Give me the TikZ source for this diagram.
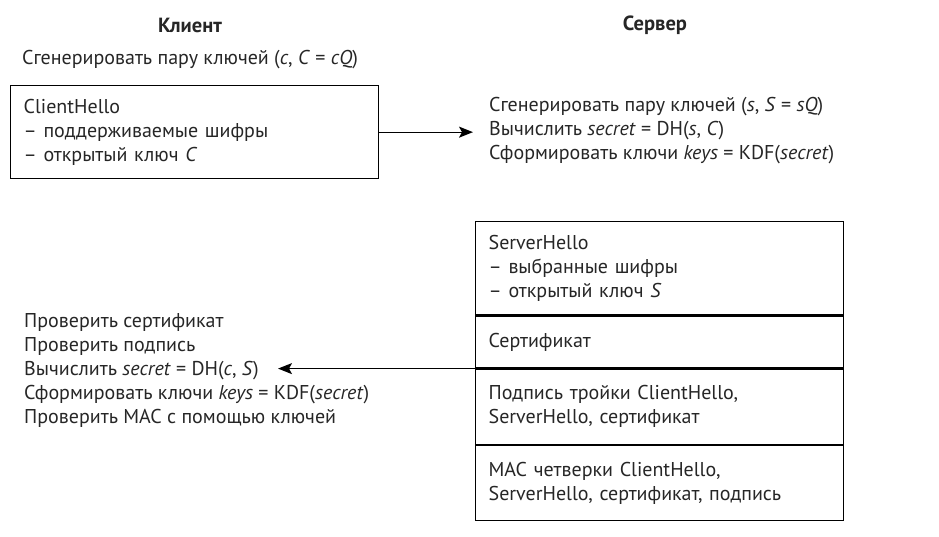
\documentclass[tikz,border=0pt]{standalone}
\usepackage{fontspec}
\setmainfont{PT Sans}
\usetikzlibrary{arrows.meta}
\begin{document}
\begin{tikzpicture}[x=1pt,y=-1pt,
  every node/.style={text=black!85},
  basefont/.style={font=\fontsize{20}{24}\selectfont},
  head/.style={font=\fontsize{20.5}{24}\selectfont\bfseries, inner sep=0pt},
  txt/.style={basefont, inner sep=0pt, align=left},
  box/.style={basefont, draw=black, line width=1.3pt, anchor=north west,
    text width=342pt, align=left, inner xsep=13pt, inner ysep=0pt, minimum width=368pt},
  arr/.style={line width=1.3pt, -{Stealth[length=14pt,width=11pt,inset=3pt]}}
]
\useasboundingbox (0,0) rectangle (939,536);

\node[head] (client) at (190,25) {Клиент};
\node[head] (server) at (655,25) {Сервер};

\node[txt, anchor=west] (cgen) at (22,60) {Сгенерировать пару ключей (\textit{c}, \textit{C} = \textit{cQ})};

\node[box, minimum height=93pt] (chello) at (10,85) {ClientHello\\– поддерживаемые шифры\\– открытый ключ \textit{C}};

\node[txt, anchor=west] (sgen) at (489,131) {Сгенерировать пару ключей (\textit{s}, \textit{S} = \textit{sQ})\\Вычислить \textit{secret} = DH(\textit{s}, \textit{C})\\Сформировать ключи \textit{keys} = KDF(\textit{secret})};

\node[box, minimum height=93pt] (shello) at (475,221) {ServerHello\\– выбранные шифры\\– открытый ключ \textit{S}};
\node[box, minimum height=52pt] (cert) at (shello.south west) {Сертификат};
\node[box, minimum height=75pt] (sig) at (cert.south west) {Подпись тройки ClientHello,\\ServerHello, сертификат};
\node[box, minimum height=75pt] (mac) at (sig.south west) {MAC четверки ClientHello,\\ServerHello, сертификат, подпись};

\node[txt, anchor=west] (verify) at (24,370) {Проверить сертификат\\Проверить подпись\\Вычислить \textit{secret} = DH(\textit{c}, \textit{S})\\Сформировать ключи \textit{keys} = KDF(\textit{secret})\\Проверить MAC с помощью ключей};

\coordinate (tip1) at (473,131);
\coordinate (tip2) at (278,366);
\draw[arr] (chello.east) -- (chello.east -| tip1);
\draw[arr] (sig.north west) -- (sig.north west -| tip2);
\end{tikzpicture}
\end{document}
